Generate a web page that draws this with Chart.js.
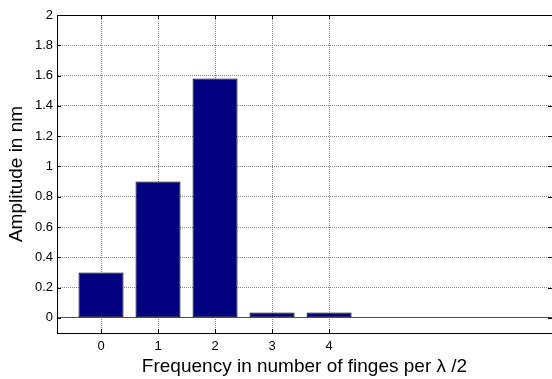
<!DOCTYPE html>
<html>
<head>
<meta charset="utf-8">
<script src="https://cdn.jsdelivr.net/npm/chart.js@4"></script>
<style>
  html, body { margin: 0; padding: 0; background: #fff; }
  canvas { display: block; }
</style>
</head>
<body>
<canvas id="ampChart" width="552" height="379"></canvas>
<script>
const categories = [0, 1, 2, 3, 4];
const amplitudes = [0.3, 0.9, 1.58, 0.035, 0.035];
const yTicks = [0, 0.2, 0.4, 0.6, 0.8, 1, 1.2, 1.4, 1.6, 1.8, 2];

// box on top + inward tick marks, matlab style
const boxPlugin = {
  id: 'box',
  afterDraw(chart) {
    const { ctx, chartArea: a, scales } = chart;
    ctx.save();
    ctx.strokeStyle = '#000';
    ctx.lineWidth = 1;
    ctx.beginPath();
    ctx.moveTo(a.left, a.top + 0.5);
    ctx.lineTo(a.right, a.top + 0.5);
    categories.forEach(c => {
      const x = Math.round(scales.x.getPixelForValue(c)) + 0.5;
      ctx.moveTo(x, a.top); ctx.lineTo(x, a.top + 4);
      ctx.moveTo(x, a.bottom); ctx.lineTo(x, a.bottom - 4);
    });
    yTicks.forEach(v => {
      const y = Math.round(scales.y.getPixelForValue(v)) + 0.5;
      ctx.moveTo(a.left, y); ctx.lineTo(a.left + 4, y);
      ctx.moveTo(a.right, y); ctx.lineTo(a.right - 4, y);
    });
    ctx.stroke();
    ctx.restore();
  }
};

new Chart(document.getElementById('ampChart'), {
  type: 'bar',
  data: {
    datasets: [{
      data: categories.map((c, i) => ({ x: c, y: amplitudes[i] })),
      backgroundColor: '#000080',
      borderColor: '#000000',
      borderWidth: 1,
      borderSkipped: false,
      barPercentage: 0.79,
      categoryPercentage: 1
    }]
  },
  options: {
    responsive: false,
    animation: false,
    devicePixelRatio: 1,
    layout: { padding: { top: 15, right: 0, left: 0, bottom: 0 } },
    plugins: { legend: { display: false }, tooltip: { enabled: false } },
    scales: {
      x: {
        type: 'linear',
        offset: false,
        min: -0.772,
        max: 7.91,
        afterBuildTicks: s => { s.ticks = categories.map(v => ({ value: v })); },
        afterFit: s => { s.height = 46; },
        ticks: {
          color: '#000',
          padding: 6,
          maxRotation: 0,
          font: { family: 'Liberation Sans', size: 13 },
          callback: v => String(v)
        },
        grid: { color: '#8a8a8a', drawTicks: false, lineWidth: 1, offset: false },
        border: { color: '#000', width: 1, dash: [1, 1] },
        title: {
          display: true,
          text: 'Frequency in number of finges per \u03bb /2',
          color: '#000',
          font: { family: 'Liberation Sans', size: 19 },
          padding: { top: 0, bottom: 1 }
        }
      },
      y: {
        min: -0.1,
        max: 2,
        afterBuildTicks: s => { s.ticks = yTicks.map(v => ({ value: v })); },
        afterFit: s => { s.width = 57; },
        ticks: {
          color: '#000',
          padding: 4,
          font: { family: 'Liberation Sans', size: 13 },
          callback: v => String(+v.toFixed(1))
        },
        grid: {
          drawTicks: false,
          lineWidth: 1,
          color: c => (c.tick && c.tick.value === 0 ? '#505050' : '#8a8a8a')
        },
        border: {
          color: '#000',
          width: 1,
          dash: c => (c.tick && c.tick.value === 0 ? [] : [1, 1])
        },
        title: {
          display: true,
          text: 'Amplitude in nm',
          color: '#000',
          font: { family: 'Liberation Sans', size: 19 },
          padding: { top: 5, bottom: 0 }
        }
      }
    }
  },
  plugins: [boxPlugin]
});
</script>
</body>
</html>
